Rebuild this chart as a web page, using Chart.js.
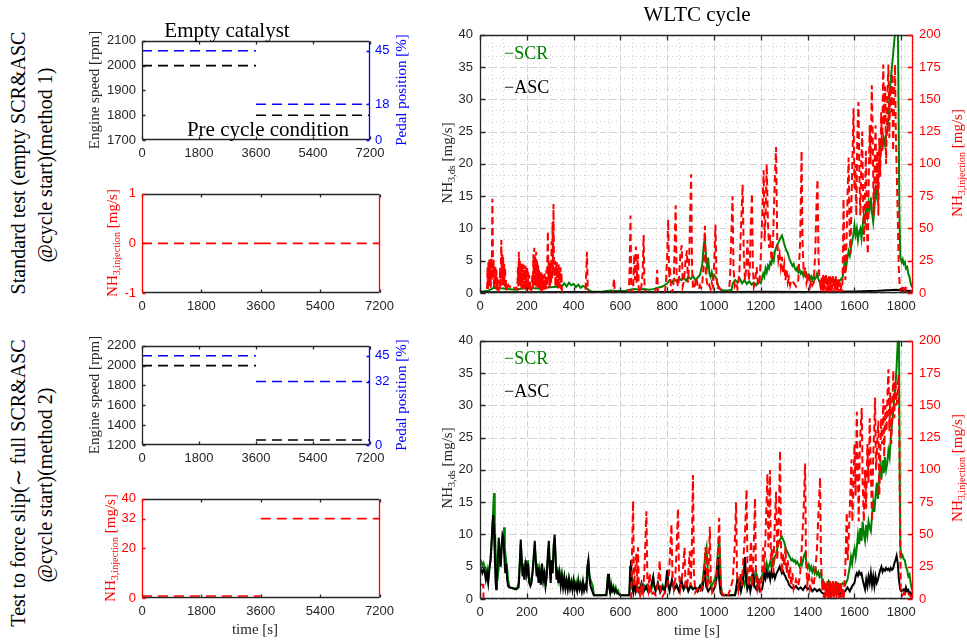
<!DOCTYPE html>
<html>
<head>
<meta charset="utf-8">
<script src="https://cdn.jsdelivr.net/npm/chart.js@4.4.0/dist/chart.umd.min.js"></script>
<style>
  body { margin: 0; background: #fff; width: 967px; height: 640px; position: relative; overflow: hidden; }
  canvas { position: absolute; }
  .t { position: absolute; white-space: nowrap; font-family: "Liberation Serif", "Times New Roman", serif;
       font-size: 15px; line-height: 1; color: #262626; transform: translate(-50%, -50%); z-index: 2; }
  .v { transform: translate(-50%, -50%) rotate(-90deg); }
  .big { font-size: 20px; color: #000; }
  .head { font-size: 21px; color: #000; }
  .lg { position: absolute; white-space: nowrap; font-family: "Liberation Serif", "Times New Roman", serif;
        font-size: 18px; line-height: 1; z-index: 2; }
  sub { font-size: 68%; vertical-align: -0.3em; line-height: 0; }
</style>
</head>
<body>
<canvas id="cond1" width="300" height="143" style="left:100px;top:27px"></canvas>
<canvas id="pre1" width="300" height="143" style="left:100px;top:180px"></canvas>
<canvas id="cond2" width="300" height="143" style="left:100px;top:332px"></canvas>
<canvas id="pre2" width="300" height="143" style="left:100px;top:485px"></canvas>
<canvas id="wltc1" width="520" height="303" style="left:430px;top:20px"></canvas>
<canvas id="wltc2" width="520" height="303" style="left:430px;top:326px"></canvas>

<div class="t v big" style="left:18px;top:163px">Standard test (empty SCR&amp;ASC</div>
<div class="t v big" style="left:45px;top:165px">@cycle start)(method 1)</div>
<div class="t v big" style="left:18px;top:483px">Test to force slip(∼ full SCR&amp;ASC</div>
<div class="t v big" style="left:45px;top:485px">@cycle start)(method 2)</div>

<div class="t head" style="left:227px;top:30px">Empty catalyst</div>
<div class="t head" style="left:268px;top:129px">Pre cycle condition</div>
<div class="t v" style="left:94px;top:90px">Engine speed [rpm]</div>
<div class="t v" style="left:401px;top:90px;color:#0000ff">Pedal position [%]</div>
<div class="t v" style="left:112px;top:243px;color:#ff0000">NH<sub>3,injection</sub> [mg/s]</div>
<div class="t v" style="left:94px;top:395px">Engine speed [rpm]</div>
<div class="t v" style="left:401px;top:395px;color:#0000ff">Pedal position [%]</div>
<div class="t v" style="left:110px;top:548px;color:#ff0000">NH<sub>3,injection</sub> [mg/s]</div>
<div class="t" style="left:255px;top:629px">time [s]</div>

<div class="t head" style="left:697px;top:14px">WLTC cycle</div>
<div class="t v" style="left:447px;top:163px">NH<sub>3,ds</sub> [mg/s]</div>
<div class="t v" style="left:957px;top:163px;color:#ff0000">NH<sub>3,injection</sub> [mg/s]</div>
<div class="t v" style="left:447px;top:468px">NH<sub>3,ds</sub> [mg/s]</div>
<div class="t v" style="left:957px;top:468px;color:#ff0000">NH<sub>3,injection</sub> [mg/s]</div>
<div class="t" style="left:697px;top:630px">time [s]</div>

<div class="lg" style="left:504px;top:44px;color:#008000">−SCR</div>
<div class="lg" style="left:504px;top:78px;color:#000">−ASC</div>
<div class="lg" style="left:504px;top:349px;color:#008000">−SCR</div>
<div class="lg" style="left:504px;top:382px;color:#000">−ASC</div>

<script>
// tick values
const condTimeTicks = [0, 1800, 3600, 5400, 7200];
const speedTicks1 = [1700, 1800, 1900, 2000, 2100];
const pedalTicks1 = [0, 18, 45];
const preInjTicks1 = [-1, 0, 1];
const speedTicks2 = [1200, 1400, 1600, 1800, 2000, 2200];
const pedalTicks2 = [0, 32, 45];
const preInjTicks2 = [0, 20, 32, 40];
const wltcTimeTicks = [0, 200, 400, 600, 800, 1000, 1200, 1400, 1600, 1800];
const nh3Ticks = [0, 5, 10, 15, 20, 25, 30, 35, 40];
const injRateTicks = [0, 25, 50, 75, 100, 125, 150, 175, 200];

// pre cycle conditioning: two phases of 3600 s each
const phaseBounds = [0, 3600, 7200];
const speed1 = [2000, 1800];
const pedal1 = [45, 18];
const preInj1 = [0, 0];
const speed2 = [2000, 1250];
const pedal2 = [45, 32];
const preInj2 = [0.8, 32];

// WLTC, method 1: [time s, value]
const scr1 = [[0,0.2],[30,0.3],[60,0.8],[100,0.7],[150,0.5],[200,0.8],[250,0.7],[300,0.9],[350,1.0],[360,1.5],[370,1.0],[380,1.6],[390,1.2],[400,1.4],[410,0.9],[420,1.3],[430,0.8],[440,1.1],[450,0.9],[460,0.6],[470,0.3],[480,0.2],[500,0.2],[520,0.2],[540,0.3],[560,0.4],[580,0.3],[600,0.3],[620,0.3],[640,0.5],[660,0.6],[680,0.5],[700,0.6],[720,0.5],[740,0.6],[760,0.8],[780,1.0],[800,1.5],[810,2.0],[820,1.6],[830,2.2],[840,1.8],[850,2.3],[860,2.0],[870,2.4],[880,1.9],[890,2.5],[900,2.2],[910,2.6],[920,2.0],[930,2.4],[940,2.8],[950,4.5],[955,7.0],[960,8.5],[965,6.0],[970,4.0],[975,5.5],[980,3.0],[985,2.5],[990,3.2],[995,2.4],[1000,2.8],[1005,2.6],[1010,2.2],[1015,1.5],[1020,0.8],[1030,0.5],[1040,0.4],[1060,0.4],[1075,0.5],[1080,1.5],[1090,2.0],[1100,1.6],[1110,2.2],[1120,1.5],[1130,2.0],[1140,1.4],[1150,1.8],[1160,1.3],[1170,1.6],[1180,1.2],[1190,1.8],[1200,1.5],[1210,3.0],[1215,2.5],[1220,3.8],[1225,3.2],[1230,4.2],[1235,3.8],[1240,4.8],[1245,4.5],[1250,5.5],[1255,5.0],[1260,6.5],[1265,7.0],[1270,7.5],[1275,7.8],[1280,8.2],[1285,8.6],[1290,8.9],[1295,8.3],[1300,7.6],[1305,7.0],[1310,6.5],[1315,6.2],[1320,5.5],[1325,5.0],[1330,4.6],[1335,4.2],[1340,4.5],[1345,3.8],[1350,3.5],[1355,3.9],[1360,3.2],[1365,3.6],[1370,3.0],[1375,3.3],[1380,2.8],[1385,3.1],[1390,2.6],[1395,3.0],[1400,2.4],[1405,2.8],[1410,2.2],[1415,2.6],[1420,2.0],[1425,2.5],[1430,2.1],[1435,2.4],[1440,3.0],[1445,2.2],[1450,1.8],[1460,1.6],[1470,1.9],[1480,1.5],[1490,2.0],[1500,1.6],[1510,1.8],[1520,2.2],[1530,1.7],[1540,2.0],[1550,2.5],[1555,4.0],[1560,5.0],[1565,4.2],[1570,5.5],[1575,6.5],[1580,5.8],[1585,7.0],[1590,8.0],[1595,9.0],[1600,10.5],[1605,9.0],[1610,10.0],[1615,8.2],[1620,9.5],[1625,10.0],[1630,8.5],[1635,10.5],[1640,12.0],[1645,11.0],[1650,13.0],[1655,12.0],[1660,14.0],[1665,13.0],[1670,14.8],[1675,12.5],[1680,11.0],[1685,13.0],[1690,16.0],[1695,15.0],[1700,17.0],[1705,19.0],[1710,21.0],[1715,23.0],[1720,22.5],[1725,24.0],[1730,23.0],[1735,24.5],[1740,25.0],[1745,27.0],[1750,31.0],[1755,33.0],[1760,35.0],[1765,37.0],[1770,39.0],[1775,41.0],[1780,43.0],[1785,45.0],[1788,30.0],[1792,12.0],[1796,5.5],[1802,4.8],[1806,5.2],[1810,4.5],[1815,4.8],[1820,3.8],[1825,4.0],[1830,3.0],[1835,2.5],[1840,1.5],[1845,1.0],[1850,0.8]];
const asc1 = [[0,0.1],[200,0.1],[400,0.15],[600,0.1],[800,0.15],[1000,0.1],[1200,0.2],[1400,0.15],[1600,0.25],[1700,0.35],[1780,0.5],[1800,0.4],[1850,0.3]];
const inj1 = [[0,0],[28,0],[30,0],[32,20],[34,3],[36,24],[38,5],[40,26],[42,8],[44,22],[46,4],[48,28],[50,10],[53,73],[56,12],[58,26],[60,4],[62,22],[64,6],[66,20],[68,3],[70,18],[72,2],[74,12],[76,2],[78,10],[80,1],[82,8],[84,2],[86,20],[88,4],[91,41],[93,10],[95,30],[97,6],[99,28],[101,8],[103,24],[105,5],[107,20],[109,3],[111,10],[113,2],[115,6],[118,5],[121,6],[124,5],[128,5],[132,4],[136,5],[140,4],[144,4],[148,4],[152,3],[156,4],[160,3],[162,20],[164,5],[166,32],[168,8],[170,25],[172,6],[174,22],[176,4],[178,24],[180,8],[182,20],[184,3],[186,22],[188,6],[190,18],[192,4],[194,21],[196,2],[198,18],[200,5],[202,20],[204,3],[206,16],[208,2],[210,14],[212,1],[214,10],[216,0],[220,2],[224,15],[226,4],[228,30],[230,6],[232,35],[234,10],[236,28],[238,5],[240,32],[242,8],[244,25],[246,4],[248,22],[250,6],[252,18],[254,3],[256,14],[258,2],[260,16],[262,3],[264,15],[266,1],[268,12],[270,3],[272,14],[274,2],[276,15],[278,4],[280,12],[282,3],[284,18],[286,5],[288,30],[290,48],[292,12],[294,25],[296,4],[298,20],[300,6],[302,24],[304,8],[306,40],[308,10],[310,55],[312,15],[314,69],[316,20],[318,12],[320,25],[322,5],[324,22],[326,4],[328,24],[330,6],[332,20],[334,3],[336,22],[338,5],[340,18],[342,4],[344,20],[346,3],[348,16],[350,2],[352,0],
  [450,0],[454,15],[457,32],[460,5],[463,0],[566,0],[570,6],[573,11],[576,0],
  [636,0],[640,25],[643,60],[646,10],[649,0],[655,5],[659,30],[662,10],[666,36],[669,8],[672,20],[675,30],[678,5],[681,0],[688,3],[695,15],[699,45],[703,5],[708,0],[748,0],[753,5],[757,18],[760,2],[764,0],[790,0],[795,10],[800,30],[804,57],[808,12],[812,20],[816,2],[822,0],[828,10],[832,40],[836,68],[840,15],[845,5],[850,10],[856,30],[862,37],[866,5],[872,10],[878,25],[884,33],[888,8],[893,20],[898,60],[902,92],[906,20],[910,5],[915,3],[920,8],[925,12],[930,5],[935,3],[940,6],[945,4],[950,8],[955,20],[961,52],[965,15],[970,8],[975,4],[980,6],[985,3],[990,8],[995,5],[1000,20],[1006,53],[1010,15],[1015,3],[1020,5],[1030,2],[1040,0],[1062,0],[1068,10],[1073,40],[1079,75],[1083,20],[1088,5],[1095,8],[1100,3],[1108,15],[1115,50],[1122,84],[1127,30],[1132,10],[1138,20],[1143,41],[1148,10],[1152,15],[1157,50],[1162,77],[1166,20],[1170,5],[1176,10],[1182,20],[1188,6],[1195,10],[1200,30],[1206,60],[1212,95],[1216,40],[1220,60],[1225,100],[1230,55],[1235,35],[1240,45],[1245,25],[1250,30],[1255,60],[1260,90],[1265,113],[1270,40],[1275,25],[1280,30],[1285,20],[1290,28],[1295,15],[1300,22],[1305,10],[1310,18],[1315,8],[1320,12],[1325,6],[1330,10],[1340,8],[1350,5],[1360,10],[1368,40],[1374,110],[1378,40],[1383,15],[1390,20],[1395,8],[1400,12],[1405,15],[1410,5],[1415,10],[1420,6],[1426,8],[1432,30],[1438,70],[1442,88],[1446,30],[1450,10],[1455,5],
  [1460,12],[1463,2],[1466,14],[1469,0],[1472,13],[1475,3],[1478,15],[1481,1],[1484,12],[1487,0],[1490,14],[1493,2],[1496,13],[1499,0],[1502,12],[1505,3],[1508,14],[1511,0],[1514,11],[1517,2],[1520,13],[1523,0],[1526,10],[1529,2],[1532,12],[1535,0],[1538,8],[1541,1],[1544,6],[1547,0],
  [1550,20],[1553,73],[1557,30],[1561,10],[1566,40],[1571,80],[1575,105],[1579,50],[1583,30],[1587,70],[1592,110],[1596,143],[1600,80],[1604,100],[1608,60],[1612,120],[1617,148],[1621,90],[1625,60],[1629,100],[1633,125],[1637,70],[1641,40],[1645,80],[1649,110],[1653,50],[1657,30],[1661,90],[1665,130],[1669,100],[1674,161],[1678,120],[1682,60],[1686,100],[1690,130],[1694,80],[1698,110],[1702,60],[1706,120],[1710,90],[1714,140],[1718,110],[1723,177],[1727,130],[1731,160],[1735,100],[1740,150],[1745,177],[1749,120],[1753,160],[1757,140],[1761,170],[1765,110],[1769,150],[1773,177],[1777,120],[1781,90],[1785,59],[1789,20],[1793,5],[1797,2],[1805,3],[1810,6],[1815,2],[1820,4],[1830,3],[1840,2],[1850,1]];

// WLTC, method 2: [time s, value]
const scr2 = [[0,5.5],[5,5.8],[10,5.2],[15,5.6],[20,5.0],[25,3.5],[30,4.5],[35,3.0],[40,5.0],[45,6.0],[50,9.0],[54,12.0],[57,14.5],[60,16.4],[63,12.0],[66,8.0],[69,6.0],[72,4.0],[76,3.5],[80,5.0],[85,7.0],[90,6.0],[95,9.0],[100,10.0],[103,11.1],[106,8.0],[110,6.5],[115,5.0],[120,3.0],[125,2.0],[130,1.8],[140,1.7],[150,1.6],[160,1.8],[165,2.5],[170,6.0],[174,8.5],[178,6.0],[182,4.0],[186,5.5],[190,3.0],[195,5.5],[200,4.5],[205,6.0],[210,3.5],[215,2.5],[220,3.0],[225,4.0],[230,6.0],[234,8.0],[238,6.5],[242,4.0],[246,5.5],[250,3.0],[255,4.5],[260,2.5],[265,5.0],[270,3.0],[275,4.5],[280,2.0],[285,4.0],[290,6.5],[294,8.0],[298,5.0],[302,3.0],[306,6.0],[310,4.0],[315,8.5],[319,9.5],[323,6.0],[327,3.5],[331,5.0],[335,3.0],[340,4.0],[345,2.5],[350,3.8],[355,2.2],[360,3.5],[365,2.0],[370,3.0],[375,1.8],[380,3.2],[385,2.0],[390,2.8],[395,1.6],[400,3.0],[405,2.0],[410,2.6],[415,1.5],[420,3.0],[425,1.8],[430,2.5],[435,1.5],[440,2.8],[445,1.5],[450,2.2],[455,1.8],[459,5.0],[463,5.9],[467,4.0],[472,3.0],[477,2.5],[482,2.0],[486,0.8],[490,0.6],[500,0.6],[520,0.6],[540,0.7],[544,2.0],[547,3.5],[551,2.0],[556,1.2],[560,2.5],[565,1.5],[570,2.0],[575,1.2],[580,1.8],[585,1.0],[590,1.3],[595,0.8],[600,0.6],[620,0.6],[638,0.6],[642,4.0],[645,5.0],[649,2.0],[655,1.5],[660,2.0],[670,1.2],[680,1.8],[690,1.0],[700,2.2],[710,1.5],[720,1.8],[730,1.2],[740,2.5],[750,1.5],[760,2.0],[770,1.3],[780,2.2],[790,1.5],[800,2.8],[810,1.8],[820,2.5],[830,1.5],[840,2.0],[850,1.3],[860,2.2],[870,1.5],[880,2.0],[890,1.4],[900,2.2],[910,1.6],[920,1.8],[930,1.3],[940,2.0],[950,2.5],[958,5.0],[963,7.0],[968,8.0],[972,5.0],[976,3.0],[982,2.5],[990,2.0],[1000,2.8],[1010,4.0],[1016,7.0],[1022,9.6],[1026,6.0],[1030,2.0],[1035,0.7],[1045,0.6],[1060,0.6],[1080,0.6],[1090,0.7],[1095,2.0],[1100,3.0],[1110,2.5],[1120,3.5],[1130,2.2],[1140,3.8],[1150,2.5],[1160,3.5],[1170,2.2],[1180,4.0],[1190,2.8],[1200,3.2],[1210,4.0],[1215,4.8],[1220,4.2],[1225,5.5],[1230,4.6],[1235,5.2],[1240,5.8],[1245,5.0],[1250,6.0],[1255,5.5],[1260,6.5],[1265,7.0],[1270,7.8],[1275,8.5],[1280,9.0],[1285,9.4],[1290,9.6],[1295,9.2],[1300,8.8],[1305,8.0],[1310,7.5],[1315,7.2],[1320,6.8],[1325,6.4],[1330,6.0],[1335,6.2],[1340,5.8],[1345,6.0],[1350,5.5],[1355,5.8],[1360,5.4],[1365,5.0],[1370,5.5],[1375,5.2],[1380,6.0],[1385,6.8],[1390,7.2],[1395,5.5],[1400,4.8],[1405,5.3],[1410,4.5],[1415,5.0],[1420,4.2],[1425,4.8],[1430,4.0],[1435,4.5],[1440,3.8],[1445,4.2],[1450,3.5],[1455,4.0],[1460,3.2],[1465,3.0],[1470,2.5],[1480,2.0],[1490,2.8],[1500,2.2],[1510,2.5],[1520,1.8],[1530,2.4],[1540,2.0],[1550,2.5],[1560,2.2],[1570,3.0],[1575,4.0],[1580,5.0],[1585,6.5],[1590,5.5],[1595,7.0],[1600,7.8],[1605,6.5],[1610,8.0],[1615,10.0],[1620,8.5],[1625,11.0],[1630,9.0],[1635,12.0],[1640,10.0],[1645,9.0],[1650,11.5],[1655,10.0],[1660,12.0],[1665,11.0],[1670,10.5],[1675,13.0],[1680,15.0],[1685,13.5],[1690,16.0],[1695,18.0],[1700,15.5],[1705,19.0],[1710,20.5],[1715,18.5],[1720,21.5],[1725,19.5],[1730,22.0],[1735,20.0],[1740,21.0],[1745,23.0],[1750,22.0],[1755,25.0],[1760,27.0],[1765,29.0],[1770,31.0],[1775,33.0],[1780,36.0],[1785,40.0],[1790,42.0],[1793,20.0],[1796,8.0],[1800,6.5],[1805,6.8],[1810,6.2],[1815,6.0],[1820,5.0],[1825,4.5],[1830,3.5],[1835,3.8],[1840,2.5],[1845,1.5],[1850,1.2]];
const asc2 = [[0,4.2],[5,4.5],[10,4.0],[15,4.6],[20,4.2],[25,3.0],[30,4.0],[35,2.5],[40,4.5],[45,6.0],[50,9.0],[54,12.0],[57,13.0],[60,10.0],[63,7.0],[66,3.0],[69,1.5],[72,3.0],[76,6.0],[80,9.5],[84,7.0],[88,5.0],[92,8.0],[96,10.0],[100,9.6],[104,6.5],[108,4.0],[112,5.5],[116,3.0],[120,2.0],[125,1.8],[135,1.7],[145,1.6],[155,1.5],[165,1.8],[170,5.0],[174,9.2],[178,6.5],[182,3.5],[186,5.0],[190,3.0],[195,6.0],[200,4.0],[205,5.5],[210,2.5],[215,2.0],[220,2.5],[225,4.5],[230,7.0],[234,9.0],[238,6.0],[242,3.5],[246,5.0],[250,2.5],[255,4.0],[260,2.2],[265,5.5],[270,3.0],[275,4.0],[280,2.0],[285,3.5],[290,7.0],[294,9.0],[298,5.0],[302,2.5],[306,6.0],[310,4.0],[315,8.0],[319,10.0],[323,6.5],[327,3.0],[331,4.5],[335,2.5],[340,4.0],[345,2.0],[350,3.5],[355,1.8],[360,3.2],[365,1.6],[370,2.8],[375,1.5],[380,3.0],[385,1.6],[390,2.5],[395,1.4],[400,2.8],[405,1.5],[410,2.2],[415,1.3],[420,2.6],[425,1.5],[430,2.2],[435,1.2],[440,2.5],[445,1.3],[450,2.0],[455,1.5],[459,5.0],[463,6.0],[467,3.5],[472,2.0],[477,1.5],[482,1.0],[486,0.6],[500,0.6],[540,0.6],[544,2.5],[547,3.9],[551,2.0],[556,1.0],[560,2.0],[565,1.2],[570,1.6],[575,1.0],[580,1.4],[590,0.8],[600,0.6],[638,0.6],[642,5.0],[645,6.0],[649,2.0],[655,1.0],[660,2.5],[665,1.2],[670,2.0],[680,1.0],[690,2.5],[700,1.2],[710,2.0],[720,1.0],[730,1.8],[740,3.5],[745,2.0],[750,1.2],[760,2.5],[770,1.0],[780,1.8],[790,1.2],[800,4.5],[805,2.0],[810,1.2],[820,3.0],[830,1.5],[840,2.2],[850,1.2],[860,3.0],[870,1.5],[880,2.5],[890,1.2],[900,2.0],[910,1.5],[920,1.8],[930,1.2],[940,2.0],[950,1.5],[956,3.0],[961,5.0],[966,2.0],[975,1.2],[985,1.8],[995,1.2],[1005,2.0],[1012,3.5],[1018,6.5],[1022,3.0],[1028,1.0],[1035,0.6],[1090,0.6],[1095,1.5],[1100,3.0],[1105,1.5],[1110,2.5],[1115,1.2],[1120,2.0],[1126,3.5],[1132,6.5],[1137,3.0],[1142,1.5],[1150,2.5],[1155,1.2],[1162,2.5],[1168,4.5],[1172,2.0],[1180,1.5],[1188,2.5],[1195,1.2],[1205,1.5],[1210,2.5],[1215,4.0],[1220,3.2],[1225,4.2],[1230,3.5],[1235,4.0],[1240,3.0],[1245,4.2],[1250,3.5],[1255,4.0],[1260,3.2],[1265,3.8],[1270,4.2],[1275,4.6],[1280,5.0],[1285,4.5],[1290,4.0],[1295,4.3],[1300,3.8],[1305,3.5],[1310,3.0],[1315,2.8],[1320,2.2],[1325,2.0],[1330,1.8],[1340,1.6],[1350,2.0],[1360,1.5],[1370,1.8],[1380,1.4],[1390,2.0],[1400,1.5],[1410,1.8],[1420,1.2],[1430,1.6],[1440,1.2],[1450,1.5],[1460,1.0],[1470,0.8],[1480,1.0],[1490,0.7],[1500,0.9],[1510,0.6],[1520,0.8],[1530,0.7],[1540,0.9],[1550,0.8],[1560,1.2],[1570,1.8],[1580,1.2],[1590,2.0],[1600,2.5],[1605,3.5],[1610,4.0],[1615,3.6],[1620,4.2],[1625,3.8],[1630,4.0],[1635,3.0],[1640,2.2],[1645,1.5],[1650,3.0],[1655,2.0],[1660,3.5],[1665,2.5],[1670,4.0],[1675,2.2],[1680,3.5],[1685,2.0],[1690,3.5],[1695,2.5],[1700,3.0],[1705,3.8],[1710,4.5],[1715,5.0],[1720,4.2],[1725,4.6],[1730,4.4],[1735,4.8],[1740,4.5],[1745,4.7],[1750,4.4],[1755,4.8],[1760,4.5],[1765,4.7],[1770,5.5],[1775,6.0],[1780,6.7],[1785,5.5],[1790,3.0],[1795,1.5],[1800,1.2],[1810,1.5],[1815,1.0],[1820,1.8],[1825,1.2],[1830,1.4],[1835,0.8],[1840,1.0],[1845,0.5],[1850,0.4]];
const inj2 = [[0,11],[14,11],[15,0],[646,0],[650,40],[654,76],[658,10],[662,20],[668,35],[672,5],[675,40],[679,8],[684,3],[690,10],[696,5],[702,20],[707,45],[711,68],[715,15],[720,8],[725,20],[730,3],[740,5],[750,3],[758,10],[764,20],[768,30],[772,5],[780,2],[790,5],[800,10],[808,20],[813,40],[818,58],[822,20],[828,8],[834,15],[840,40],[846,70],[850,20],[856,8],[862,15],[868,25],[874,40],[878,10],[884,8],[890,20],[896,37],[900,10],[904,30],[910,96],[914,20],[920,5],[930,8],[940,5],[950,10],[958,20],[963,40],[968,30],[972,8],[978,30],[982,56],[986,15],[992,5],[1000,8],[1010,15],[1016,35],[1022,63],[1026,20],[1032,5],[1040,3],[1050,5],[1060,3],[1070,8],[1080,15],[1088,40],[1094,75],[1098,20],[1104,8],[1112,20],[1118,10],[1125,30],[1132,50],[1139,85],[1143,20],[1148,10],[1153,25],[1158,45],[1162,10],[1168,30],[1175,78],[1179,20],[1185,8],[1192,15],[1198,5],[1205,20],[1210,40],[1215,20],[1220,50],[1228,97],[1232,40],[1236,60],[1239,100],[1243,30],[1248,40],[1253,20],[1258,50],[1265,83],[1270,30],[1276,60],[1282,115],[1286,40],[1290,20],[1295,35],[1300,25],[1305,40],[1310,20],[1315,30],[1320,15],[1325,25],[1330,10],[1335,20],[1340,8],[1350,15],[1360,10],[1368,20],[1375,40],[1383,70],[1389,105],[1393,30],[1398,12],[1405,20],[1410,8],[1418,15],[1425,10],[1432,20],[1440,40],[1448,75],[1453,94],[1457,30],[1462,10],
  [1466,13],[1469,1],[1472,14],[1475,0],[1478,12],[1481,2],[1484,14],[1487,0],[1490,13],[1493,1],[1496,14],[1499,0],[1502,13],[1505,2],[1508,14],[1511,0],[1514,12],[1517,1],[1520,14],[1523,0],[1526,13],[1529,2],[1532,12],[1535,0],[1538,13],[1541,1],[1544,11],[1547,0],[1550,9],[1553,0],[1556,6],
  [1560,20],[1567,67],[1571,30],[1576,50],[1582,80],[1587,108],[1591,60],[1596,90],[1600,120],[1605,80],[1610,145],[1614,100],[1618,60],[1622,110],[1626,130],[1631,148],[1635,90],[1640,60],[1645,100],[1650,70],[1655,120],[1660,90],[1665,140],[1670,100],[1675,60],[1680,110],[1684,130],[1688,156],[1692,100],[1697,120],[1702,138],[1706,80],[1710,110],[1714,140],[1718,120],[1723,155],[1727,110],[1732,150],[1737,130],[1741,160],[1745,178],[1749,130],[1753,160],[1757,120],[1762,150],[1766,177],[1770,140],[1775,170],[1780,150],[1784,160],[1788,174],[1792,120],[1795,40],[1798,5],[1805,3],[1812,5],[1820,2],[1830,4],[1840,2],[1850,1]];

const tickFont = { family: '"Liberation Sans", Arial, sans-serif', size: 13 };
const dark = '#262626';

function pts(series) {
  return series.map(p => ({ x: p[0], y: p[1] }));
}

// two constant phases, broken at the phase change
function steps(vals) {
  return [
    { x: phaseBounds[0], y: vals[0] }, { x: phaseBounds[1], y: vals[0] },
    { x: phaseBounds[1], y: null },
    { x: phaseBounds[1], y: vals[1] }, { x: phaseBounds[2], y: vals[1] }
  ];
}

function axis(pos, min, max, ticks, color, size, pad) {
  return {
    type: 'linear', position: pos, min: min, max: max,
    grid: { display: false, drawTicks: false },
    border: { display: false },
    afterBuildTicks: s => { s.ticks = ticks.map(v => ({ value: v })); },
    afterFit: s => { if (pos === 'bottom') s.height = size; else s.width = size; },
    ticks: { color: color, font: tickFont, padding: pad, maxRotation: 0, autoSkip: false, callback: v => String(v) }
  };
}

// box, inward tick marks and the MATLAB-like grid
const framePlugin = {
  id: 'frame',
  beforeDatasetsDraw(chart, args, o) {
    if (!o.grid) return;
    const { ctx, chartArea: a, scales } = chart;
    const x = scales.x, y = scales.y;
    ctx.save();
    ctx.lineWidth = 1;
    ctx.strokeStyle = '#cdcdcd';
    ctx.setLineDash([1, 3]);
    for (let v = x.min; v <= x.max; v += o.minorX) {
      const px = Math.round(x.getPixelForValue(v)) + 0.5;
      ctx.beginPath(); ctx.moveTo(px, a.top); ctx.lineTo(px, a.bottom); ctx.stroke();
    }
    for (let v = y.min; v <= y.max + 1e-6; v += o.minorY) {
      const py = Math.round(y.getPixelForValue(v)) + 0.5;
      ctx.beginPath(); ctx.moveTo(a.left, py); ctx.lineTo(a.right, py); ctx.stroke();
    }
    ctx.strokeStyle = '#d2d2d2';
    ctx.setLineDash([6, 4]);
    x.ticks.forEach(t => {
      const px = Math.round(x.getPixelForValue(t.value)) + 0.5;
      ctx.beginPath(); ctx.moveTo(px, a.top); ctx.lineTo(px, a.bottom); ctx.stroke();
    });
    y.ticks.forEach(t => {
      const py = Math.round(y.getPixelForValue(t.value)) + 0.5;
      ctx.beginPath(); ctx.moveTo(a.left, py); ctx.lineTo(a.right, py); ctx.stroke();
    });
    ctx.restore();
  },
  afterDatasetsDraw(chart, args, o) {
    const { ctx, chartArea: a, scales } = chart;
    const L = Math.round(a.left) + 0.5, R = Math.round(a.right) - 0.5;
    const T = Math.round(a.top) + 0.5, B = Math.round(a.bottom) - 0.5;
    const tl = o.tickLen;
    ctx.save();
    ctx.setLineDash([]);
    ctx.lineWidth = 1.3;
    ctx.strokeStyle = dark;
    ctx.beginPath();
    ctx.moveTo(L, T); ctx.lineTo(R, T);
    ctx.moveTo(L, B); ctx.lineTo(R, B);
    scales.x.ticks.forEach(t => {
      const px = Math.round(scales.x.getPixelForValue(t.value)) + 0.5;
      ctx.moveTo(px, B); ctx.lineTo(px, B - tl);
      ctx.moveTo(px, T); ctx.lineTo(px, T + tl);
    });
    ctx.stroke();
    ctx.strokeStyle = o.left;
    ctx.beginPath();
    ctx.moveTo(L, T); ctx.lineTo(L, B);
    scales.y.ticks.forEach(t => {
      const py = Math.round(scales.y.getPixelForValue(t.value)) + 0.5;
      ctx.moveTo(L, py); ctx.lineTo(L + tl, py);
    });
    ctx.stroke();
    ctx.strokeStyle = o.right;
    ctx.beginPath();
    ctx.moveTo(R, T); ctx.lineTo(R, B);
    if (scales.y2) {
      scales.y2.ticks.forEach(t => {
        const py = Math.round(scales.y2.getPixelForValue(t.value)) + 0.5;
        ctx.moveTo(R, py); ctx.lineTo(R - tl, py);
      });
    }
    ctx.stroke();
    ctx.restore();
  }
};

function baseOptions(scales, frame, top) {
  return {
    responsive: false,
    animation: false,
    events: [],
    layout: { padding: { top: top, left: 0, right: 0, bottom: 0 } },
    elements: { point: { radius: 0 }, line: { tension: 0, fill: false } },
    plugins: { legend: { display: false }, tooltip: { enabled: false }, frame: frame },
    scales: scales
  };
}

function dashed(data, color, axisId) {
  return { data: data, borderColor: color, borderWidth: 1.6, borderDash: [10, 6], yAxisID: axisId, spanGaps: false };
}

// left column: pre-cycle engine speed / pedal position
function condChart(id, speed, pedal, speedTicks, pedalTicks) {
  new Chart(document.getElementById(id), {
    type: 'line',
    data: { datasets: [dashed(steps(speed), '#000000', 'y'), dashed(steps(pedal), '#0000ff', 'y2')] },
    options: baseOptions({
      x: axis('bottom', 0, 7200, condTimeTicks, dark, 30, 6),
      y: axis('left', speedTicks[0], speedTicks[speedTicks.length - 1], speedTicks, dark, 42, 6),
      y2: axis('right', 0, 50, pedalTicks, '#0000ff', 30, 5)
    }, { left: dark, right: '#0000ff', tickLen: 3, grid: false }, 10),
    plugins: [framePlugin]
  });
}

// left column: pre-cycle NH3 injection
function preInjChart(id, inj, ticks) {
  new Chart(document.getElementById(id), {
    type: 'line',
    data: { datasets: [dashed(steps(inj), '#ff0000', 'y')] },
    options: baseOptions({
      x: axis('bottom', 0, 7200, condTimeTicks, dark, 30, 6),
      y: axis('left', ticks[0], ticks[ticks.length - 1], ticks, '#ff0000', 42, 6)
    }, { left: '#ff0000', right: '#ff0000', tickLen: 3, grid: false }, 10),
    plugins: [framePlugin]
  });
}

// right column: NH3 downstream of SCR / ASC with injection rate on the right axis
function wltcChart(id, scr, asc, inj) {
  new Chart(document.getElementById(id), {
    type: 'line',
    data: {
      datasets: [
        { data: pts(scr), borderColor: '#008000', borderWidth: 2, yAxisID: 'y', order: 2 },
        { data: pts(asc), borderColor: '#000000', borderWidth: 2, yAxisID: 'y', order: 1 },
        { data: pts(inj), borderColor: '#ff0000', borderWidth: 2, borderDash: [7, 4], yAxisID: 'y2', order: 0 }
      ]
    },
    options: baseOptions({
      x: axis('bottom', 0, 1850, wltcTimeTicks, dark, 30, 6),
      y: axis('left', 0, 40, nh3Ticks, dark, 50, 7),
      y2: axis('right', 0, 200, injRateTicks, '#ff0000', 37, 6)
    }, { left: dark, right: '#ff0000', tickLen: 5, grid: true, minorX: 50, minorY: 5 / 3 }, 10),
    plugins: [framePlugin]
  });
}

condChart('cond1', speed1, pedal1, speedTicks1, pedalTicks1);
preInjChart('pre1', preInj1, preInjTicks1);
condChart('cond2', speed2, pedal2, speedTicks2, pedalTicks2);
preInjChart('pre2', preInj2, preInjTicks2);
wltcChart('wltc1', scr1, asc1, inj1);
wltcChart('wltc2', scr2, asc2, inj2);
</script>
</body>
</html>
